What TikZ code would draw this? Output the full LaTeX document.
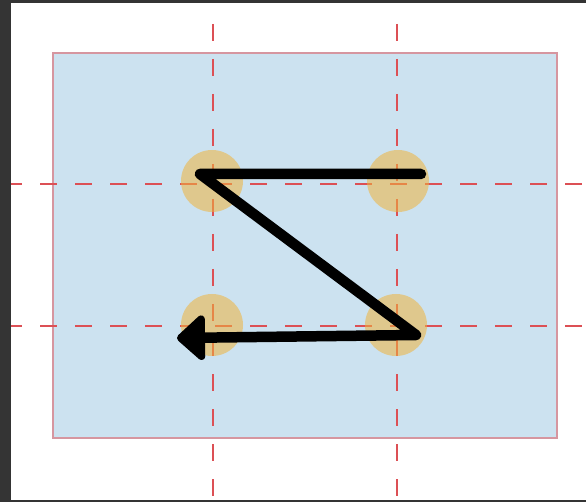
\documentclass[tikz,border=0pt]{standalone}
\usetikzlibrary{arrows.meta}
\definecolor{frame}{RGB}{52,52,52}
\definecolor{panel}{RGB}{204,226,240}
\definecolor{panelline}{RGB}{214,150,160}
\definecolor{guide}{RGB}{220,80,85}
\definecolor{spot}{RGB}{240,180,60}
\tikzset{
  guideline/.style={guide, line width=2.4pt, dash pattern=on 17pt off 18pt},
  spotdisc/.style={circle, fill=spot, fill opacity=0.55, minimum size=62pt, inner sep=0pt, draw=none},
  zpath/.style={black, line width=10.5pt, line cap=round, line join=round},
}
\begin{document}
\begin{tikzpicture}[x=1pt,y=-1pt]
\useasboundingbox (0,0) rectangle (586,502);
\fill[white] (0,0) rectangle (586,502);
\fill[frame] (0,0) rectangle (11,502);
\fill[frame] (0,0) rectangle (586,3);
\fill[frame] (0,500) rectangle (586,502);
% panel
\draw[panelline, fill=panel, line width=1.8pt] (53,53) rectangle (557,438);
% guides
\coordinate (vt1) at (213,24); \coordinate (vb1) at (213,500);
\coordinate (vt2) at (397,24); \coordinate (vb2) at (397,500);
\coordinate (hl1) at (11,184); \coordinate (hr1) at (586,184);
\coordinate (hl2) at (11,326); \coordinate (hr2) at (586,326);
\draw[guideline] (vt1) -- (vb1);
\draw[guideline] (vt2) -- (vb2);
\draw[guideline, dash phase=6pt] (hl1) -- (hr1);
\draw[guideline, dash phase=6pt] (hl2) -- (hr2);
% discs
\node[spotdisc] (c1) at (212,181) {};
\node[spotdisc] (c2) at (398,181) {};
\node[spotdisc] (c3) at (212,325) {};
\node[spotdisc] (c4) at (396,325) {};
% Z path
\coordinate (p1) at (421,174);
\coordinate (p2) at (200,174);
\coordinate (p3) at (416,335);
\coordinate (p4) at (177,338);
\draw[zpath, -{Triangle[length=30pt,width=52pt,round]}] (p1) -- (p2) -- (p3) -- (p4);
\end{tikzpicture}
\end{document}
